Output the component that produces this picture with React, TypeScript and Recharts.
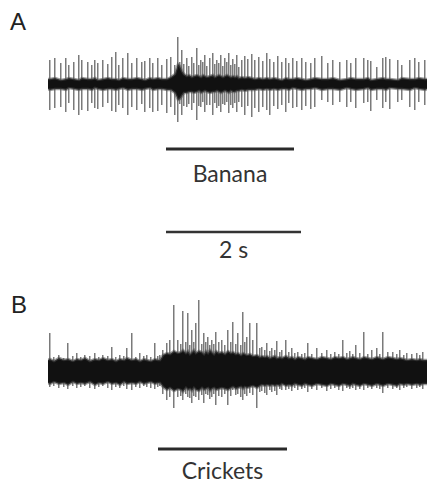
import { Area, Bar, ComposedChart, ReferenceLine, XAxis, YAxis } from "recharts";

// time is in bins of the recording, 67.5 bins = 1 s
const BINS_PER_SECOND = 67.5;

// trace A (banana): spike bins, spike heights above / below baseline, noise band
const binsA = [
  0, 2, 7, 13, 18, 21, 26, 31, 34, 40,
  44, 47, 50, 55, 60, 64, 68, 71, 75, 80,
  84, 89, 94, 97, 102, 105, 110, 114, 119, 123,
  127, 130, 132, 134, 136, 139, 141, 144, 146, 149,
  151, 153, 155, 157, 159, 162, 165, 167, 169, 171,
  173, 175, 177, 179, 181, 183, 185, 187, 189, 191,
  194, 197, 200, 204, 207, 211, 215, 219, 222, 226,
  230, 234, 238, 241, 245, 249, 254, 258, 263, 267,
  274, 280, 285, 292, 299, 303, 308, 316, 320, 323,
  329, 335, 338, 342, 350, 354, 362, 367, 371, 377,
  379,
];
const upA = [
  0, 24, 26, 21, 26, 19, 22, 29, 24, 22,
  19, 24, 21, 24, 20, 27, 32, 19, 26, 31,
  21, 26, 22, 23, 26, 21, 26, 19, 25, 27,
  19, 47, 22, 34, 20, 26, 18, 27, 21, 36,
  19, 24, 22, 29, 18, 26, 31, 20, 24, 21,
  29, 18, 26, 22, 31, 19, 25, 20, 29, 17,
  24, 28, 25, 30, 24, 27, 23, 31, 25, 22,
  28, 22, 26, 21, 26, 23, 26, 22, 21, 26,
  28, 21, 24, 22, 24, 21, 26, 26, 24, 23,
  17, 26, 27, 25, 24, 19, 24, 26, 22, 24,
  0,
];
const downA = [
  0, 26, 24, 23, 28, 19, 26, 31, 26, 27,
  19, 24, 25, 23, 19, 27, 28, 21, 24, 31,
  23, 26, 20, 28, 24, 28, 27, 21, 29, 23,
  31, 38, 20, 31, 22, 23, 20, 26, 19, 36,
  22, 23, 18, 28, 21, 21, 31, 19, 24, 22,
  28, 20, 21, 18, 29, 21, 24, 19, 28, 18,
  23, 31, 22, 33, 24, 28, 23, 26, 31, 22,
  25, 21, 28, 19, 24, 23, 26, 22, 25, 23,
  16, 18, 21, 18, 23, 18, 24, 19, 18, 27,
  16, 24, 18, 25, 18, 16, 23, 26, 18, 21,
  0,
];
const bandHiA = [
  5, 5, 6, 4, 5, 6, 5, 4, 6, 5,
  5, 6, 4, 5, 6, 5, 5, 4, 6, 5,
  5, 6, 5, 4, 6, 5, 6, 5, 5, 7,
  10, 20, 18, 13, 10, 8, 9, 7, 8, 9,
  8, 7, 9, 8, 7, 8, 9, 7, 8, 9,
  8, 7, 8, 9, 8, 7, 8, 7, 8, 6,
  7, 6, 7, 6, 5, 6, 5, 6, 5, 6,
  5, 4, 6, 5, 5, 6, 5, 4, 5, 6,
  5, 5, 6, 4, 5, 6, 5, 5, 6, 4,
  5, 6, 5, 5, 4, 6, 5, 5, 6, 5,
  5,
];
const bandLoA = [
  5, 6, 5, 5, 6, 4, 5, 6, 5, 5,
  6, 4, 5, 6, 5, 5, 6, 5, 4, 6,
  5, 5, 6, 5, 4, 6, 5, 5, 6, 6,
  9, 16, 15, 12, 9, 9, 8, 8, 9, 8,
  7, 9, 8, 7, 8, 9, 8, 8, 7, 8,
  9, 8, 7, 8, 9, 7, 8, 8, 7, 7,
  6, 7, 6, 6, 6, 5, 6, 5, 6, 5,
  6, 5, 5, 6, 4, 5, 6, 5, 5, 4,
  6, 5, 5, 6, 4, 5, 6, 5, 4, 6,
  5, 5, 6, 4, 5, 5, 6, 4, 5, 6,
  5,
];

// trace B (crickets)
const binsB = [
  0, 2, 6, 11, 16, 20, 25, 29, 33, 37,
  42, 47, 51, 55, 60, 64, 68, 72, 76, 79,
  84, 88, 92, 96, 99, 103, 107, 110, 112, 115,
  119, 122, 126, 130, 133, 135, 138, 140, 142, 144,
  146, 148, 151, 154, 156, 158, 160, 162, 164, 166,
  168, 171, 174, 177, 180, 183, 185, 188, 190, 193,
  195, 197, 199, 202, 205, 209, 212, 214, 217, 219,
  222, 224, 227, 229, 232, 234, 238, 241, 244, 247,
  250, 254, 257, 260, 264, 269, 274, 279, 283, 287,
  291, 295, 299, 302, 305, 308, 312, 316, 320, 324,
  329, 332, 335, 340, 345, 349, 352, 356, 359, 364,
  369, 372, 375, 379,
];
const upB = [
  0, 39, 15, 17, 14, 29, 16, 19, 15, 17,
  16, 19, 15, 17, 16, 25, 15, 17, 16, 24,
  39, 15, 19, 16, 17, 15, 29, 16, 17, 22,
  29, 32, 67, 32, 28, 61, 30, 59, 27, 42,
  30, 49, 72, 28, 39, 30, 35, 27, 32, 28,
  40, 30, 32, 27, 42, 30, 50, 28, 39, 27,
  60, 30, 35, 49, 32, 49, 24, 25, 22, 29,
  21, 24, 22, 31, 20, 22, 32, 20, 24, 19,
  20, 18, 19, 29, 18, 24, 19, 22, 18, 20,
  18, 32, 19, 21, 18, 27, 19, 40, 18, 22,
  24, 18, 40, 20, 20, 18, 22, 17, 19, 18,
  19, 17, 20, 0,
];
const downB = [
  0, 15, 14, 16, 15, 17, 14, 16, 15, 14,
  16, 17, 15, 14, 16, 18, 15, 16, 14, 17,
  18, 15, 16, 14, 15, 16, 17, 15, 14, 22,
  28, 25, 36, 25, 24, 28, 22, 25, 26, 31,
  24, 25, 28, 23, 31, 22, 23, 27, 25, 22,
  33, 24, 25, 22, 33, 24, 18, 23, 22, 25,
  28, 22, 24, 21, 23, 36, 20, 19, 21, 23,
  18, 20, 19, 23, 17, 18, 18, 17, 19, 16,
  18, 17, 16, 20, 17, 18, 16, 19, 17, 16,
  18, 19, 16, 17, 16, 18, 17, 18, 16, 17,
  16, 17, 21, 16, 17, 16, 18, 16, 15, 17,
  16, 15, 17, 0,
];
const bandHiB = [
  12, 13, 11, 14, 12, 13, 11, 13, 12, 14,
  11, 13, 12, 14, 12, 13, 11, 13, 12, 14,
  12, 13, 11, 13, 12, 11, 13, 12, 12, 17,
  19, 18, 21, 19, 20, 22, 19, 21, 18, 20,
  22, 19, 21, 20, 18, 21, 19, 22, 20, 18,
  21, 19, 20, 18, 21, 19, 20, 18, 19, 17,
  19, 18, 17, 18, 16, 17, 15, 16, 15, 16,
  14, 15, 16, 14, 15, 14, 16, 14, 15, 13,
  15, 14, 13, 15, 14, 13, 15, 14, 13, 15,
  14, 15, 13, 14, 15, 14, 13, 15, 14, 13,
  15, 14, 13, 15, 14, 13, 14, 13, 12, 13,
  12, 13, 12, 12,
];
const bandLoB = [
  11, 12, 10, 12, 11, 13, 10, 12, 11, 12,
  10, 13, 11, 12, 10, 12, 11, 13, 10, 12,
  11, 12, 10, 12, 11, 10, 12, 11, 11, 15,
  18, 16, 19, 17, 18, 20, 16, 18, 17, 19,
  16, 18, 19, 16, 18, 17, 16, 19, 17, 16,
  18, 17, 16, 17, 18, 16, 15, 17, 16, 15,
  17, 15, 16, 15, 14, 16, 14, 13, 14, 13,
  14, 13, 14, 13, 14, 12, 14, 13, 14, 12,
  13, 14, 12, 13, 14, 12, 13, 14, 12, 13,
  14, 12, 13, 14, 12, 13, 14, 12, 13, 14,
  12, 13, 14, 12, 13, 14, 12, 13, 12, 13,
  12, 13, 12, 12,
];

// stimulus bars and scale bar, in bins
const bananaOn = [118, 246];
const cricketsOn = [110, 239];
const scaleStart = 118;
const scaleSeconds = 2;

const buildRows = (bins: number[], up: number[], down: number[], hi: number[], lo: number[]) =>
  bins.map((bin, i) => ({
    bin,
    band: [-lo[i], hi[i]],
    spike: up[i] > 0 ? [-down[i], up[i]] : null,
  }));

const rowsA = buildRows(binsA, upA, downA, bandHiA, bandLoA);
const rowsB = buildRows(binsB, upB, downB, bandHiB, bandLoB);

const labelStyle = { fontSize: 23, fontFamily: "Lato", fill: "#333" };

const Trace = ({ rows, height, domain, children }: any) => (
  <ComposedChart width={427} height={height} data={rows} margin={{ top: 0, right: 0, bottom: 0, left: 48 }}>
    <XAxis dataKey="bin" type="number" domain={[0, 379]} allowDataOverflow hide />
    <YAxis type="number" domain={domain} allowDataOverflow hide />
    <Bar dataKey="spike" barSize={1.5} fill="#7a7a7a" isAnimationActive={false} zIndex={100} />
    <Area
      type="linear"
      dataKey="band"
      stroke="#4a4a4a"
      strokeWidth={2.5}
      strokeOpacity={0.55}
      fill="#111"
      fillOpacity={1}
      dot={false}
      activeDot={false}
      connectNulls
      isAnimationActive={false}
      zIndex={300}
    />
    {children}
  </ComposedChart>
);

const panelLetter = { position: "absolute", fontFamily: "Liberation Sans", fontSize: 24, lineHeight: "24px", color: "#222" } as const;

export default function App() {
  return (
    <div style={{ position: "absolute", left: 0, top: 0, width: 427, height: 485, background: "#fff", overflow: "hidden" }}>
      <div style={{ ...panelLetter, left: 10, top: 10 }}>A</div>
      <div style={{ position: "absolute", left: 0, top: 0 }}>
        <Trace rows={rowsA} height={270} domain={[-186, 84]}>
          <ReferenceLine
            segment={[{ x: bananaOn[0], y: -65 }, { x: bananaOn[1], y: -65 }]}
            stroke="#2a2a2a"
            strokeWidth={3}
            label={{ value: "Banana", position: "bottom", offset: 17, ...labelStyle }}
          />
          <ReferenceLine
            segment={[
              { x: scaleStart, y: -148 },
              { x: scaleStart + scaleSeconds * BINS_PER_SECOND, y: -148 },
            ]}
            stroke="#333"
            strokeWidth={2.5}
            label={{ value: "2 s", position: "bottom", offset: 10, ...labelStyle }}
          />
        </Trace>
      </div>
      <div style={{ ...panelLetter, left: 11, top: 293 }}>B</div>
      <div style={{ position: "absolute", left: 0, top: 270 }}>
        <Trace rows={rowsB} height={215} domain={[-113, 102]}>
          <ReferenceLine
            segment={[{ x: cricketsOn[0], y: -77 }, { x: cricketsOn[1], y: -77 }]}
            stroke="#2a2a2a"
            strokeWidth={3}
            label={{ value: "Crickets", position: "bottom", offset: 14, ...labelStyle }}
          />
        </Trace>
      </div>
    </div>
  );
}
